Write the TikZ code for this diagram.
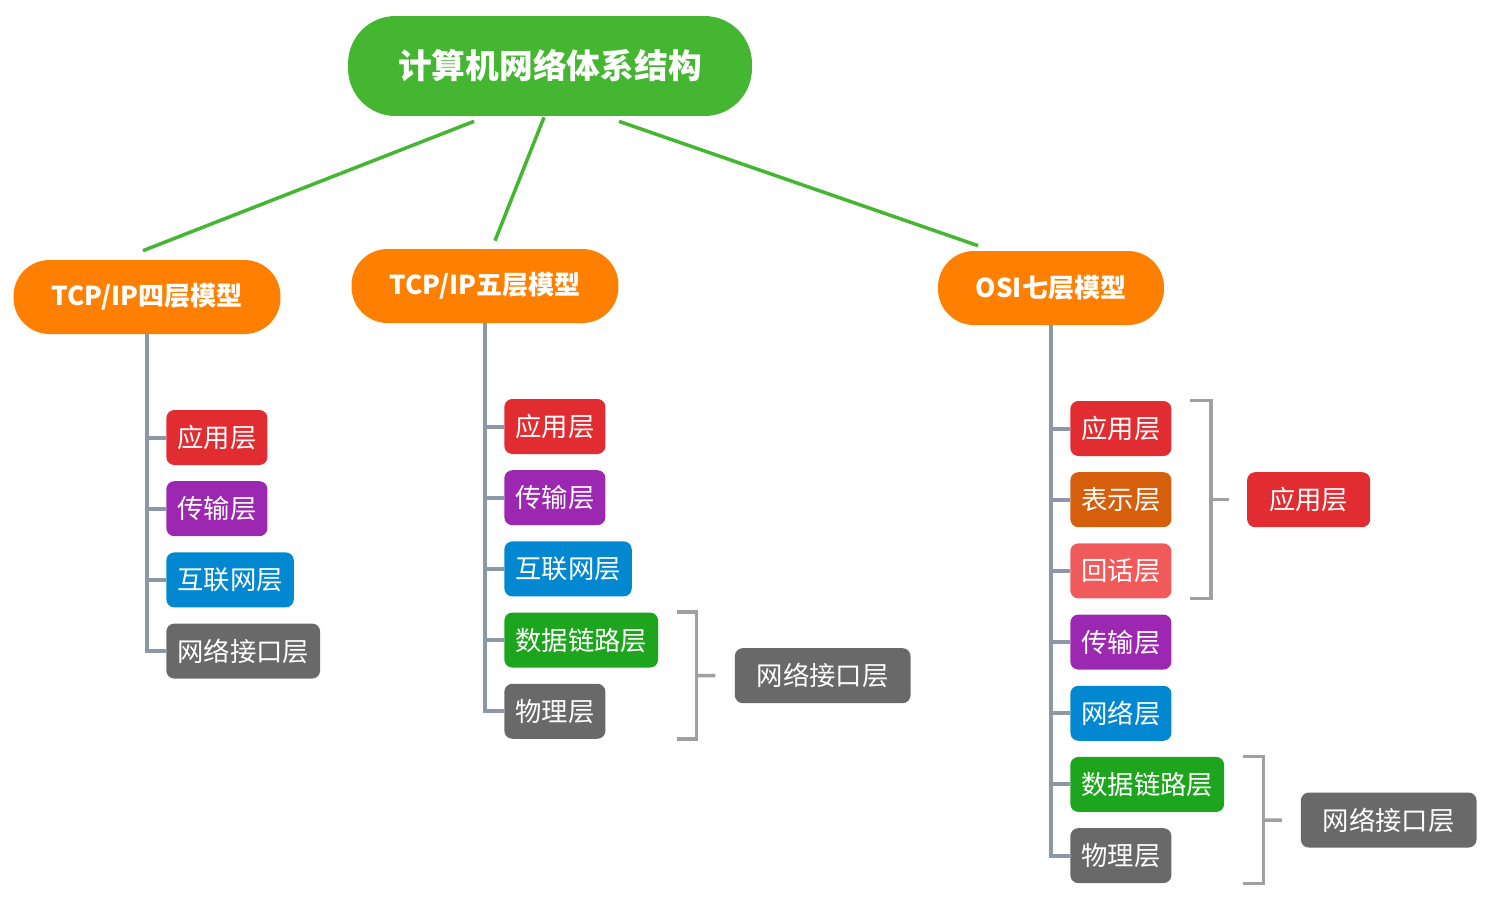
\documentclass[tikz,border=0pt]{standalone}
\usepackage{fontspec}
\setmainfont{Noto Sans CJK SC}
\usetikzlibrary{positioning,calc}
\definecolor{rootgreen}{RGB}{69,182,49}
\definecolor{modelorange}{RGB}{255,128,0}
\definecolor{layerred}{RGB}{225,45,49}
\definecolor{layerpurple}{RGB}{156,39,176}
\definecolor{layerblue}{RGB}{2,136,209}
\definecolor{layergreen}{RGB}{29,166,29}
\definecolor{layergray}{RGB}{105,105,105}
\definecolor{layerbrown}{RGB}{214,95,14}
\definecolor{layerpink}{RGB}{240,90,90}
\colorlet{branchgreen}{rootgreen}
\definecolor{trunkgray}{RGB}{140,151,168}
\definecolor{bracketgray}{RGB}{160,160,160}

\begin{document}
\begin{tikzpicture}[x=0.02cm,y=-0.02cm,node distance=.31cm,
    every node/.style={text=white,font=\fontsize{15}{16}\selectfont},
    root/.style={fill=rootgreen,rounded corners=.95cm,minimum width=8.08cm,minimum height=2cm,font=\fontsize{19.2}{22}\selectfont\bfseries},
    model/.style={fill=modelorange,rounded corners=.72cm,minimum height=1.48cm,font=\fontsize{14.8}{16}\selectfont\bfseries},
    layer/.style={rounded corners=.16cm,minimum height=1.1cm,inner xsep=.22cm},
    summary/.style={layer,fill=layergray,inner xsep=.44cm},
    branch/.style={draw=branchgreen,line width=.07cm},
    trunk/.style={draw=trunkgray,line width=.08cm},
    bracket/.style={draw=bracketgray,line width=.07cm}]
    \useasboundingbox (0,0) rectangle (1492,897);

    \node[root] (root) at (550,66) {计算机网络体系结构};
    \node[model,minimum width=5.34cm] (four) at (147,297) {TCP/IP四层模型};
    \node[model,minimum width=5.34cm] (five) at (485,286) {TCP/IP五层模型};
    \node[model,minimum width=4.52cm] (osi) at (1051,288) {OSI七层模型};

    \draw[branch] ($(root.south)+(-76,5)$) -- ($(four.north)+(-4,-9)$);
    \draw[branch] ($(root.south)+(-6,1)$) -- ($(five.north)+(10,-8)$);
    \draw[branch] ($(root.south)+(69,5)$) -- ($(osi.north)+(-73,-5)$);

    % TCP/IP four layers
    \node[layer,fill=layerred,anchor=west] (f1) at (166,437.5) {应用层};
    \node[layer,fill=layerpurple,below=of f1.south west,anchor=north west] (f2) {传输层};
    \node[layer,fill=layerblue,below=of f2.south west,anchor=north west] (f3) {互联网层};
    \node[layer,fill=layergray,below=of f3.south west,anchor=north west] (f4) {网络接口层};
    \foreach \n in {f1,f2,f3,f4}
      \draw[trunk] (four.south) |- (\n.west);

    % TCP/IP five layers
    \node[layer,fill=layerred,anchor=west] (p1) at (504,426.5) {应用层};
    \node[layer,fill=layerpurple,below=of p1.south west,anchor=north west] (p2) {传输层};
    \node[layer,fill=layerblue,below=of p2.south west,anchor=north west] (p3) {互联网层};
    \node[layer,fill=layergreen,below=of p3.south west,anchor=north west] (p4) {数据链路层};
    \node[layer,fill=layergray,below=of p4.south west,anchor=north west] (p5) {物理层};
    \foreach \n in {p1,p2,p3,p4,p5}
      \draw[trunk] (five.south) |- (\n.west);

    \coordinate (b1) at ($(p4.north east)!.5!(p4.east |- p5.south)+(38,0)$);
    \coordinate (b1top) at ($(p4.north east)+(19,0)$);
    \coordinate (b1bot) at ($(p4.east |- p5.south)+(19,0)$);
    \draw[bracket] (b1top) -| (b1) |- (b1bot);
    \node[summary,right=.76cm of b1] (pn) {网络接口层};
    \draw[bracket] (b1) -- ($(b1)!.5!(pn.west)$);

    % OSI seven layers
    \node[layer,fill=layerred,anchor=west] (o1) at (1070,428.5) {应用层};
    \node[layer,fill=layerbrown,below=of o1.south west,anchor=north west] (o2) {表示层};
    \node[layer,fill=layerpink,below=of o2.south west,anchor=north west] (o3) {回话层};
    \node[layer,fill=layerpurple,below=of o3.south west,anchor=north west] (o4) {传输层};
    \node[layer,fill=layerblue,below=of o4.south west,anchor=north west] (o5) {网络层};
    \node[layer,fill=layergreen,below=of o5.south west,anchor=north west] (o6) {数据链路层};
    \node[layer,fill=layergray,below=of o6.south west,anchor=north west] (o7) {物理层};
    \foreach \n in {o1,o2,o3,o4,o5,o6,o7}
      \draw[trunk] (osi.south) |- (\n.west);

    \coordinate (b2) at ($(o1.north east)!.5!(o3.south east)+(39,0)$);
    \draw[bracket] ($(o1.north east)+(18,0)$) -| (b2) |- ($(o3.south east)+(18,0)$);
    \node[summary,fill=layerred,right=.72cm of b2] (oa) {应用层};
    \draw[bracket] (b2) -- ($(b2)!.5!(oa.west)$);

    \coordinate (b3) at ($(o6.north east)!.5!(o6.east |- o7.south)+(39,0)$);
    \coordinate (b3top) at ($(o6.north east)+(19,0)$);
    \coordinate (b3bot) at ($(o6.east |- o7.south)+(19,0)$);
    \draw[bracket] (b3top) -| (b3) |- (b3bot);
    \node[summary,right=.74cm of b3] (on) {网络接口层};
    \draw[bracket] (b3) -- ($(b3)!.5!(on.west)$);
\end{tikzpicture}
\end{document}
